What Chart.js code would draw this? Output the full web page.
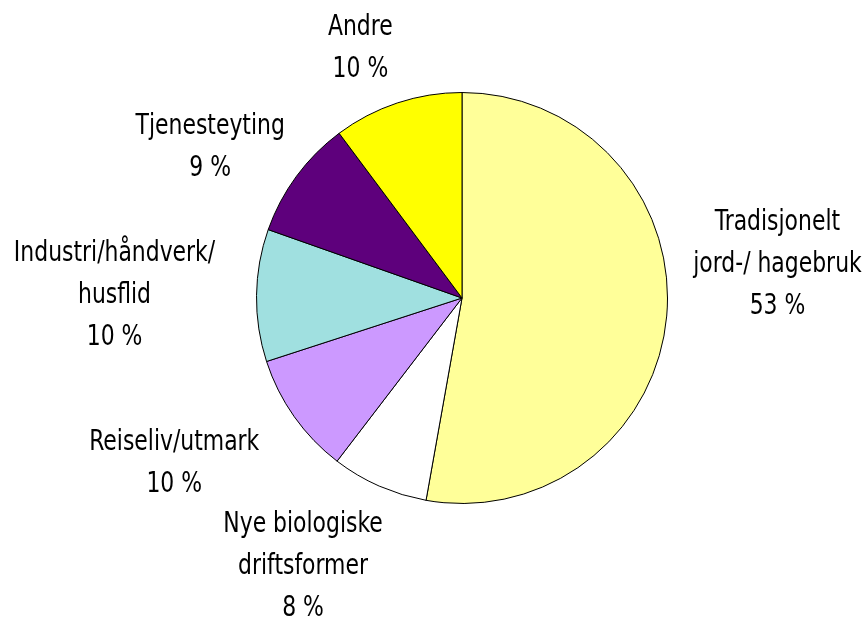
<!DOCTYPE html>
<html>
<head>
<meta charset="utf-8">
<script src="https://cdn.jsdelivr.net/npm/chart.js@4"></script>
<style>
  html, body { margin: 0; padding: 0; background: #fff; }
  #wrap { width: 865px; height: 623px; }
</style>
</head>
<body>
<div id="wrap"><canvas id="pie-chart"></canvas></div>
<script>
// data, clockwise from 12 o'clock
var categories = [
  ["Tradisjonelt", "jord-/ hagebruk"],
  ["Nye biologiske", "driftsformer"],
  ["Reiseliv/utmark"],
  ["Industri/håndverk/", "husflid"],
  ["Tjenesteyting"],
  ["Andre"]
];
var shares = [52.8, 7.6, 9.6, 10.4, 9.4, 10.2];
var colors = ["#FFFF99", "#FFFFFF", "#CC99FF", "#A0E0E0", "#5E007C", "#FFFF00"];

// label placement: shift (px) from a point 60px outside the rim
var labelShift = [[51, -59], [-52, 23], [-71, 10], [-82, -2], [-38, 4], [-18, 0]];

var FONT = "28px 'Liberation Sans Narrow', 'DejaVu Sans Condensed', sans-serif";
var LINE = 42;
var SQUEEZE = 0.87; // the original face is narrower than DejaVu Condensed

var pieLabels = {
  id: "pieLabels",
  afterDraw: function (chart) {
    var ctx = chart.ctx;
    var arcs = chart.getDatasetMeta(0).data;
    ctx.save();
    ctx.font = FONT;
    ctx.fillStyle = "#000";
    ctx.textAlign = "center";
    ctx.textBaseline = "alphabetic";
    arcs.forEach(function (arc, i) {
      var p = arc.getProps(["x", "y", "startAngle", "endAngle", "outerRadius"], true);
      var mid = (p.startAngle + p.endAngle) / 2;
      var d = p.outerRadius + 60;
      var cx = p.x + Math.cos(mid) * d + labelShift[i][0];
      var cy = p.y + Math.sin(mid) * d + labelShift[i][1];
      var lines = categories[i].concat([Math.round(shares[i]) + " %"]);
      var n = lines.length;
      lines.forEach(function (t, k) {
        var y = cy + (k - (n - 1) / 2) * LINE + 10;
        ctx.save();
        ctx.translate(cx, y);
        ctx.scale(SQUEEZE, 1);
        ctx.fillText(t, 0, 0);
        ctx.restore();
      });
    });
    ctx.restore();
  }
};

var ctx = document.getElementById("pie-chart").getContext("2d");
new Chart(ctx, {
  type: "pie",
  data: {
    labels: categories.map(function (c) { return c.join(" "); }),
    datasets: [
      {
        data: shares,
        backgroundColor: colors,
        borderColor: "#000",
        borderWidth: 1
      }
    ]
  },
  options: {
    responsive: true,
    maintainAspectRatio: false,
    animation: false,
    layout: { padding: { top: 92, bottom: 119, left: 256, right: 197 } },
    plugins: {
      legend: { display: false },
      tooltip: { enabled: false }
    }
  },
  plugins: [pieLabels]
});
</script>
</body>
</html>
